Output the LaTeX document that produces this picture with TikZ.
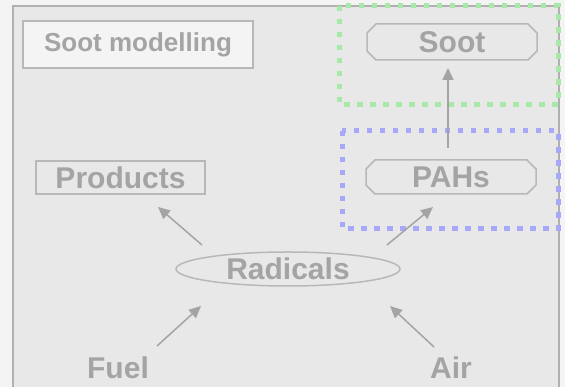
\documentclass[tikz,border=0pt]{standalone}
\usepackage{fontspec}
\setmainfont{Liberation Sans}
\usetikzlibrary{arrows.meta}
\definecolor{bgout}{HTML}{F4F4F4}
\definecolor{panel}{HTML}{E8E8E8}
\definecolor{panelline}{HTML}{B0B0B0}
\definecolor{nodeline}{HTML}{B8B8B8}
\definecolor{txt}{HTML}{A4A4A4}
\definecolor{arr}{HTML}{A4A4A4}
\definecolor{dotgreen}{HTML}{A8E8A8}
\definecolor{dotblue}{HTML}{A8A8F8}
\newcommand{\chamf}[1]{%
  \draw[nodeline, line width=1.5pt]
    ([xshift=9pt]#1.north west) -- ([xshift=-9pt]#1.north east)
    -- ([yshift=-9pt]#1.north east) -- ([yshift=9pt]#1.south east)
    -- ([xshift=-9pt]#1.south east) -- ([xshift=9pt]#1.south west)
    -- ([yshift=9pt]#1.south west) -- ([yshift=-9pt]#1.north west) -- cycle;}
\begin{document}
\begin{tikzpicture}[x=1pt,y=1pt,
  lbl/.style={font=\fontsize{30}{30}\selectfont\bfseries, text=txt, inner sep=0pt, outer sep=0pt},
  boxed/.style={lbl, draw=nodeline, line width=1.5pt},
  arrline/.style={draw=arr, line width=1.5pt, -{Triangle[length=12pt,width=11pt]}},
  dotbox/.style={line width=5pt, dash pattern=on 5.5pt off 7.5pt}
]
\useasboundingbox (0,0) rectangle (565,387);
\fill[bgout] (0,0) rectangle (565,387);
\draw[panelline, fill=panel, line width=2pt] (13,-10) rectangle (559,381);

% title
\node[boxed, fill=bgout, minimum width=230pt, minimum height=47pt,
      font=\fontsize{26}{26}\selectfont\bfseries] (title) at (138,342.5) {Soot modelling};

% dotted regions
\draw[dotbox, dotgreen] (339,381) rectangle (558,282);
\draw[dotbox, dotblue] (342,256) rectangle (558,158);

% nodes
\node[lbl, minimum width=170pt, minimum height=36pt] (soot) at (452,345) {Soot};
\chamf{soot}
\node[lbl, minimum width=170pt, minimum height=34pt] (pahs) at (451,210) {PAHs};
\chamf{pahs}
\node[boxed, minimum width=169pt, minimum height=33pt] (products) at (120.5,209.5) {Products};
\node[lbl, minimum width=224pt, minimum height=34pt] (radicals) at (288,118) {Radicals};
\draw[nodeline, line width=1.5pt] (radicals.center) ellipse [x radius=112pt, y radius=17pt];
\node[lbl] (fuel) at (118,19) {Fuel};
\node[lbl] (air) at (451,19) {Air};

% connectors
\draw[arrline] ([xshift=-3pt,yshift=12pt]pahs.north) -- ([xshift=-4pt,yshift=-8pt]soot.south);
\draw[arrline] ([shift={(-86pt,24pt)}]radicals.center) -- ([shift={(37.5pt,-29.5pt)}]products.center);
\draw[arrline] ([shift={(99pt,24pt)}]radicals.center) -- ([shift={(-18pt,-30pt)}]pahs.center);
\draw[arrline] ([shift={(39pt,22pt)}]fuel.center) -- ([shift={(-87pt,-37pt)}]radicals.center);
\draw[arrline] ([shift={(-17pt,21pt)}]air.center) -- ([shift={(102pt,-37pt)}]radicals.center);
\end{tikzpicture}
\end{document}
